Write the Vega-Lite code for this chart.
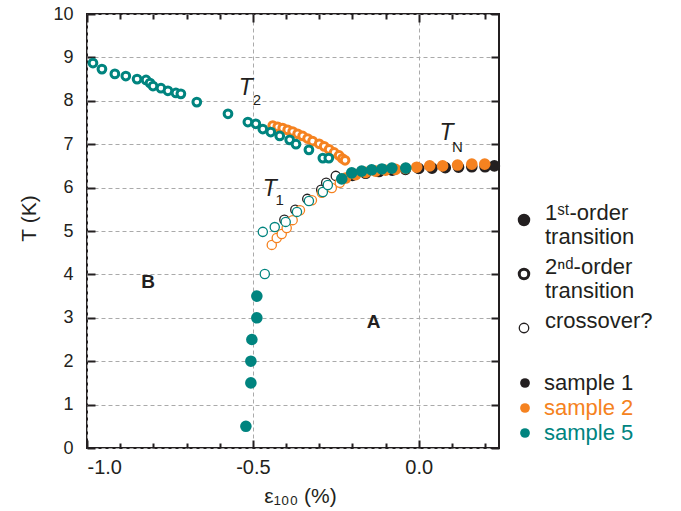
{
  "$schema": "https://vega.github.io/schema/vega-lite/v6.json",
  "width": 412,
  "height": 434,
  "autosize": {"type": "none"},
  "padding": {"left": 87, "top": 14, "right": 182, "bottom": 63},
  "background": "white",
  "config": {
    "font": "Liberation Sans",
    "view": {"stroke": "#231F20", "strokeWidth": 2},
    "axis": {"labelColor": "#231F20", "titleColor": "#231F20", "tickColor": "#231F20", "titleFontWeight": "normal"}
  },
  "resolve": {"axis": {"x": "independent", "y": "independent"}},
  "datasets": {
    "points": [
      {"sample": "sample 1", "type": "1st", "x": -0.20, "T": 6.28},
      {"sample": "sample 1", "type": "1st", "x": -0.16, "T": 6.33},
      {"sample": "sample 1", "type": "1st", "x": -0.12, "T": 6.37},
      {"sample": "sample 1", "type": "1st", "x": -0.08, "T": 6.40},
      {"sample": "sample 1", "type": "1st", "x": -0.04, "T": 6.42},
      {"sample": "sample 1", "type": "1st", "x": 0.00, "T": 6.44},
      {"sample": "sample 1", "type": "1st", "x": 0.04, "T": 6.45},
      {"sample": "sample 1", "type": "1st", "x": 0.08, "T": 6.46},
      {"sample": "sample 1", "type": "1st", "x": 0.12, "T": 6.47},
      {"sample": "sample 1", "type": "1st", "x": 0.16, "T": 6.48},
      {"sample": "sample 1", "type": "1st", "x": 0.20, "T": 6.48},
      {"sample": "sample 1", "type": "1st", "x": 0.228, "T": 6.50},
      {"sample": "sample 1", "type": "cross", "x": -0.405, "T": 5.26},
      {"sample": "sample 1", "type": "cross", "x": -0.372, "T": 5.49},
      {"sample": "sample 1", "type": "cross", "x": -0.336, "T": 5.74},
      {"sample": "sample 1", "type": "cross", "x": -0.294, "T": 5.95},
      {"sample": "sample 1", "type": "cross", "x": -0.279, "T": 6.11},
      {"sample": "sample 1", "type": "cross", "x": -0.250, "T": 6.27},
      {"sample": "sample 2", "type": "1st", "x": -0.22, "T": 6.22},
      {"sample": "sample 2", "type": "1st", "x": -0.19, "T": 6.30},
      {"sample": "sample 2", "type": "1st", "x": -0.16, "T": 6.35},
      {"sample": "sample 2", "type": "1st", "x": -0.13, "T": 6.38},
      {"sample": "sample 2", "type": "1st", "x": -0.10, "T": 6.40},
      {"sample": "sample 2", "type": "1st", "x": -0.07, "T": 6.42},
      {"sample": "sample 2", "type": "1st", "x": -0.04, "T": 6.44},
      {"sample": "sample 2", "type": "1st", "x": -0.006, "T": 6.47},
      {"sample": "sample 2", "type": "1st", "x": 0.033, "T": 6.50},
      {"sample": "sample 2", "type": "1st", "x": 0.072, "T": 6.50},
      {"sample": "sample 2", "type": "1st", "x": 0.117, "T": 6.52},
      {"sample": "sample 2", "type": "1st", "x": 0.160, "T": 6.54},
      {"sample": "sample 2", "type": "1st", "x": 0.199, "T": 6.54},
      {"sample": "sample 2", "type": "2nd", "x": -0.44, "T": 7.43},
      {"sample": "sample 2", "type": "2nd", "x": -0.425, "T": 7.40},
      {"sample": "sample 2", "type": "2nd", "x": -0.41, "T": 7.37},
      {"sample": "sample 2", "type": "2nd", "x": -0.395, "T": 7.33},
      {"sample": "sample 2", "type": "2nd", "x": -0.38, "T": 7.29},
      {"sample": "sample 2", "type": "2nd", "x": -0.365, "T": 7.24},
      {"sample": "sample 2", "type": "2nd", "x": -0.35, "T": 7.19},
      {"sample": "sample 2", "type": "2nd", "x": -0.335, "T": 7.13},
      {"sample": "sample 2", "type": "2nd", "x": -0.32, "T": 7.07},
      {"sample": "sample 2", "type": "2nd", "x": -0.30, "T": 7.01},
      {"sample": "sample 2", "type": "2nd", "x": -0.285, "T": 6.95},
      {"sample": "sample 2", "type": "2nd", "x": -0.27, "T": 6.88},
      {"sample": "sample 2", "type": "2nd", "x": -0.255, "T": 6.81},
      {"sample": "sample 2", "type": "2nd", "x": -0.24, "T": 6.74},
      {"sample": "sample 2", "type": "2nd", "x": -0.23, "T": 6.67},
      {"sample": "sample 2", "type": "2nd", "x": -0.222, "T": 6.63},
      {"sample": "sample 2", "type": "cross", "x": -0.443, "T": 4.68},
      {"sample": "sample 2", "type": "cross", "x": -0.428, "T": 4.84},
      {"sample": "sample 2", "type": "cross", "x": -0.413, "T": 4.93},
      {"sample": "sample 2", "type": "cross", "x": -0.398, "T": 5.07},
      {"sample": "sample 2", "type": "cross", "x": -0.380, "T": 5.25},
      {"sample": "sample 2", "type": "cross", "x": -0.358, "T": 5.48},
      {"sample": "sample 2", "type": "cross", "x": -0.322, "T": 5.71},
      {"sample": "sample 2", "type": "cross", "x": -0.292, "T": 5.88},
      {"sample": "sample 2", "type": "cross", "x": -0.262, "T": 5.99},
      {"sample": "sample 2", "type": "cross", "x": -0.238, "T": 6.11},
      {"sample": "sample 5", "type": "1st", "x": -0.232, "T": 6.20},
      {"sample": "sample 5", "type": "1st", "x": -0.202, "T": 6.34},
      {"sample": "sample 5", "type": "1st", "x": -0.172, "T": 6.38},
      {"sample": "sample 5", "type": "1st", "x": -0.142, "T": 6.41},
      {"sample": "sample 5", "type": "1st", "x": -0.111, "T": 6.43},
      {"sample": "sample 5", "type": "1st", "x": -0.081, "T": 6.45},
      {"sample": "sample 5", "type": "1st", "x": -0.039, "T": 6.45},
      {"sample": "sample 5", "type": "1st", "x": -0.488, "T": 3.50},
      {"sample": "sample 5", "type": "1st", "x": -0.488, "T": 3.00},
      {"sample": "sample 5", "type": "1st", "x": -0.503, "T": 2.50},
      {"sample": "sample 5", "type": "1st", "x": -0.506, "T": 2.00},
      {"sample": "sample 5", "type": "1st", "x": -0.506, "T": 1.50},
      {"sample": "sample 5", "type": "1st", "x": -0.521, "T": 0.50},
      {"sample": "sample 5", "type": "2nd", "x": -0.982, "T": 8.87},
      {"sample": "sample 5", "type": "2nd", "x": -0.955, "T": 8.73},
      {"sample": "sample 5", "type": "2nd", "x": -0.916, "T": 8.62},
      {"sample": "sample 5", "type": "2nd", "x": -0.883, "T": 8.57},
      {"sample": "sample 5", "type": "2nd", "x": -0.849, "T": 8.50},
      {"sample": "sample 5", "type": "2nd", "x": -0.822, "T": 8.48},
      {"sample": "sample 5", "type": "2nd", "x": -0.810, "T": 8.41},
      {"sample": "sample 5", "type": "2nd", "x": -0.801, "T": 8.34},
      {"sample": "sample 5", "type": "2nd", "x": -0.777, "T": 8.29},
      {"sample": "sample 5", "type": "2nd", "x": -0.756, "T": 8.23},
      {"sample": "sample 5", "type": "2nd", "x": -0.732, "T": 8.18},
      {"sample": "sample 5", "type": "2nd", "x": -0.717, "T": 8.16},
      {"sample": "sample 5", "type": "2nd", "x": -0.669, "T": 7.97},
      {"sample": "sample 5", "type": "2nd", "x": -0.575, "T": 7.70},
      {"sample": "sample 5", "type": "2nd", "x": -0.515, "T": 7.51},
      {"sample": "sample 5", "type": "2nd", "x": -0.491, "T": 7.47},
      {"sample": "sample 5", "type": "2nd", "x": -0.470, "T": 7.35},
      {"sample": "sample 5", "type": "2nd", "x": -0.446, "T": 7.28},
      {"sample": "sample 5", "type": "2nd", "x": -0.419, "T": 7.19},
      {"sample": "sample 5", "type": "2nd", "x": -0.389, "T": 7.10},
      {"sample": "sample 5", "type": "2nd", "x": -0.370, "T": 7.00},
      {"sample": "sample 5", "type": "2nd", "x": -0.331, "T": 6.87},
      {"sample": "sample 5", "type": "2nd", "x": -0.289, "T": 6.68},
      {"sample": "sample 5", "type": "2nd", "x": -0.271, "T": 6.68},
      {"sample": "sample 5", "type": "cross", "x": -0.470, "T": 4.98},
      {"sample": "sample 5", "type": "cross", "x": -0.434, "T": 5.09},
      {"sample": "sample 5", "type": "cross", "x": -0.401, "T": 5.21},
      {"sample": "sample 5", "type": "cross", "x": -0.367, "T": 5.44},
      {"sample": "sample 5", "type": "cross", "x": -0.331, "T": 5.69},
      {"sample": "sample 5", "type": "cross", "x": -0.289, "T": 5.90},
      {"sample": "sample 5", "type": "cross", "x": -0.274, "T": 6.06},
      {"sample": "sample 5", "type": "cross", "x": -0.464, "T": 4.01}
    ],
    "labels": [
      {"label": "T", "x": -0.521, "T": 8.29, "kind": "T"},
      {"label": "2", "x": -0.488, "T": 8.02, "kind": "sub"},
      {"label": "T", "x": -0.449, "T": 5.97, "kind": "T"},
      {"label": "1", "x": -0.419, "T": 5.71, "kind": "sub"},
      {"label": "T", "x": 0.084, "T": 7.26, "kind": "T"},
      {"label": "N", "x": 0.117, "T": 6.94, "kind": "sub"},
      {"label": "A", "x": -0.136, "T": 2.90, "kind": "bold"},
      {"label": "B", "x": -0.816, "T": 3.82, "kind": "bold"}
    ]
  },
  "layer": [
    {
      "data": {"name": "points"},
      "transform": [{"filter": "datum.type === 'cross'"}],
      "mark": {"type": "point", "filled": false, "fill": "white", "strokeWidth": 1.3, "size": 85, "opacity": 1},
      "encoding": {
        "x": {"field": "x", "type": "quantitative", "scale": {"domain": [-1, 0.242], "nice": false, "zero": false},
          "axis": {"orient": "bottom", "values": [-0.9, -0.8, -0.7, -0.6, -0.4, -0.3, -0.2, -0.1, 0.1, 0.2], "labels": false, "domain": false, "grid": false, "tickSize": 5, "offset": -5, "tickWidth": 2, "title": null}},
        "y": {"field": "T", "type": "quantitative", "scale": {"domain": [0, 10], "nice": false, "zero": false},
          "axis": {"orient": "left", "values": [0, 1, 2, 3, 4, 5, 6, 7, 8, 9, 10], "labels": false, "domain": false, "grid": false, "tickSize": 8, "offset": -8, "tickWidth": 2, "title": null}},
        "color": {"field": "sample", "type": "nominal", "scale": {"domain": ["sample 1", "sample 2", "sample 5"], "range": ["#231F20", "#F58220", "#00847F"]}}
      }
    },
    {
      "data": {"name": "points"},
      "transform": [{"filter": "datum.type === '2nd'"}],
      "mark": {"type": "point", "filled": false, "fill": "white", "strokeWidth": 3, "size": 60, "opacity": 1},
      "encoding": {
        "x": {"field": "x", "type": "quantitative", "scale": {"domain": [-1, 0.242], "nice": false, "zero": false},
          "axis": {"orient": "top", "values": [-1, -0.5, 0], "labels": false, "domain": false, "grid": false, "tickSize": 8, "offset": -8, "tickWidth": 2, "title": null}},
        "y": {"field": "T", "type": "quantitative", "scale": {"domain": [0, 10], "nice": false, "zero": false},
          "axis": {"orient": "right", "values": [0, 1, 2, 3, 4, 5, 6, 7, 8, 9, 10], "labels": false, "domain": false, "grid": false, "tickSize": 8, "offset": -8, "tickWidth": 2, "title": null}},
        "color": {"field": "sample", "type": "nominal", "scale": {"domain": ["sample 1", "sample 2", "sample 5"], "range": ["#231F20", "#F58220", "#00847F"]}}
      }
    },
    {
      "data": {"name": "points"},
      "transform": [{"filter": "datum.type === '1st'"}],
      "mark": {"type": "point", "filled": true, "size": 135, "opacity": 1},
      "encoding": {
        "x": {"field": "x", "type": "quantitative", "scale": {"domain": [-1, 0.242], "nice": false, "zero": false},
          "axis": {"orient": "bottom", "values": [-1, -0.5, 0], "labelExpr": "replace(format(datum.value, '.1f'), '\u2212', '-')", "ticks": false, "domain": false, "grid": true, "gridDash": [4, 3], "gridColor": "#aaaaaa", "gridWidth": 1, "labelFontSize": 20, "labelPadding": 9, "title": "ε₁₀₀ (%)", "titleFontSize": 21, "titleX": 213, "titleY": 48, "titleBaseline": "middle"}},
        "y": {"field": "T", "type": "quantitative", "scale": {"domain": [0, 10], "nice": false, "zero": false},
          "axis": {"orient": "left", "values": [0, 1, 2, 3, 4, 5, 6, 7, 8, 9, 10], "ticks": false, "domain": false, "grid": true, "gridDash": [4, 3], "gridColor": "#aaaaaa", "gridWidth": 1, "labelFontSize": 18, "labelPadding": 14, "title": "T (K)", "titleFontSize": 21, "titleX": -58, "titleY": 204, "titleBaseline": "middle", "titleAngle": -90}},
        "color": {"field": "sample", "type": "nominal",
          "scale": {"domain": ["sample 1", "sample 2", "sample 5"], "range": ["#231F20", "#F58220", "#00847F"]},
          "legend": {"orient": "none", "legendX": 427, "legendY": 358, "title": null, "labelFontSize": 22, "symbolSize": 95, "symbolType": "circle", "symbolStrokeWidth": 0, "labelOffset": 8, "rowPadding": 3, "padding": 0, "symbolOpacity": 1,
            "symbolFillColor": {"expr": "datum.value === 'sample 2' ? '#F58220' : datum.value === 'sample 5' ? '#00847F' : '#231F20'"},
            "symbolStrokeColor": {"expr": "datum.value === 'sample 2' ? '#F58220' : datum.value === 'sample 5' ? '#00847F' : '#231F20'"},
            "labelColor": {"expr": "datum.value === 'sample 2' ? '#F58220' : datum.value === 'sample 5' ? '#00847F' : '#231F20'"}}},
        "shape": {"field": "type", "type": "nominal",
          "scale": {"domain": ["1st", "2nd", "cross"], "range": ["circle", "circle", "circle"]},
          "legend": {"orient": "none", "legendX": 426, "legendY": 195, "title": null, "labelFontSize": 22, "labelColor": "#231F20", "labelLimit": 0, "labelOffset": 10, "rowPadding": 8, "padding": 0, "symbolSize": 90, "labelBaseline": "alphabetic",
            "labelExpr": "datum.value === '1st' ? ['1ˢᵗ-order', 'transition'] : datum.value === '2nd' ? ['2ⁿᵈ-order', 'transition'] : 'crossover?'",
            "symbolFillColor": {"expr": "datum.value === '1st' ? '#231F20' : 'white'"},
            "symbolStrokeColor": "#231F20",
            "symbolStrokeWidth": {"expr": "datum.value === 'cross' ? 1.3 : 3"},
            "symbolOpacity": 1}}
      }
    },
    {
      "data": {"name": "labels"},
      "transform": [{"filter": "datum.kind === 'T'"}],
      "mark": {"type": "text", "fontStyle": "italic", "fontSize": 23, "color": "#231F20", "align": "center", "baseline": "middle"},
      "encoding": {
        "x": {"field": "x", "type": "quantitative", "scale": {"domain": [-1, 0.242], "nice": false, "zero": false},
          "axis": {"orient": "top", "values": [-0.9, -0.8, -0.7, -0.6, -0.4, -0.3, -0.2, -0.1, 0.1, 0.2], "labels": false, "domain": false, "grid": false, "tickSize": 5, "offset": -5, "tickWidth": 2, "title": null}},
        "y": {"field": "T", "type": "quantitative", "scale": {"domain": [0, 10], "nice": false, "zero": false}, "axis": null},
        "text": {"field": "label"}
      }
    },
    {
      "data": {"name": "labels"},
      "transform": [{"filter": "datum.kind === 'sub'"}],
      "mark": {"type": "text", "fontSize": 15, "color": "#231F20", "align": "center", "baseline": "middle"},
      "encoding": {
        "x": {"field": "x", "type": "quantitative", "scale": {"domain": [-1, 0.242], "nice": false, "zero": false},
          "axis": {"orient": "bottom", "values": [-1, -0.5, 0], "labels": false, "domain": false, "grid": false, "tickSize": 8, "offset": -8, "tickWidth": 2, "title": null}},
        "y": {"field": "T", "type": "quantitative", "scale": {"domain": [0, 10], "nice": false, "zero": false}, "axis": null},
        "text": {"field": "label"}
      }
    },
    {
      "data": {"name": "labels"},
      "transform": [{"filter": "datum.kind === 'bold'"}],
      "mark": {"type": "text", "fontWeight": "bold", "fontSize": 19, "color": "#231F20", "align": "center", "baseline": "middle"},
      "encoding": {
        "x": {"field": "x", "type": "quantitative", "scale": {"domain": [-1, 0.242], "nice": false, "zero": false}, "axis": null},
        "y": {"field": "T", "type": "quantitative", "scale": {"domain": [0, 10], "nice": false, "zero": false}, "axis": null},
        "text": {"field": "label"}
      }
    }
  ]
}
